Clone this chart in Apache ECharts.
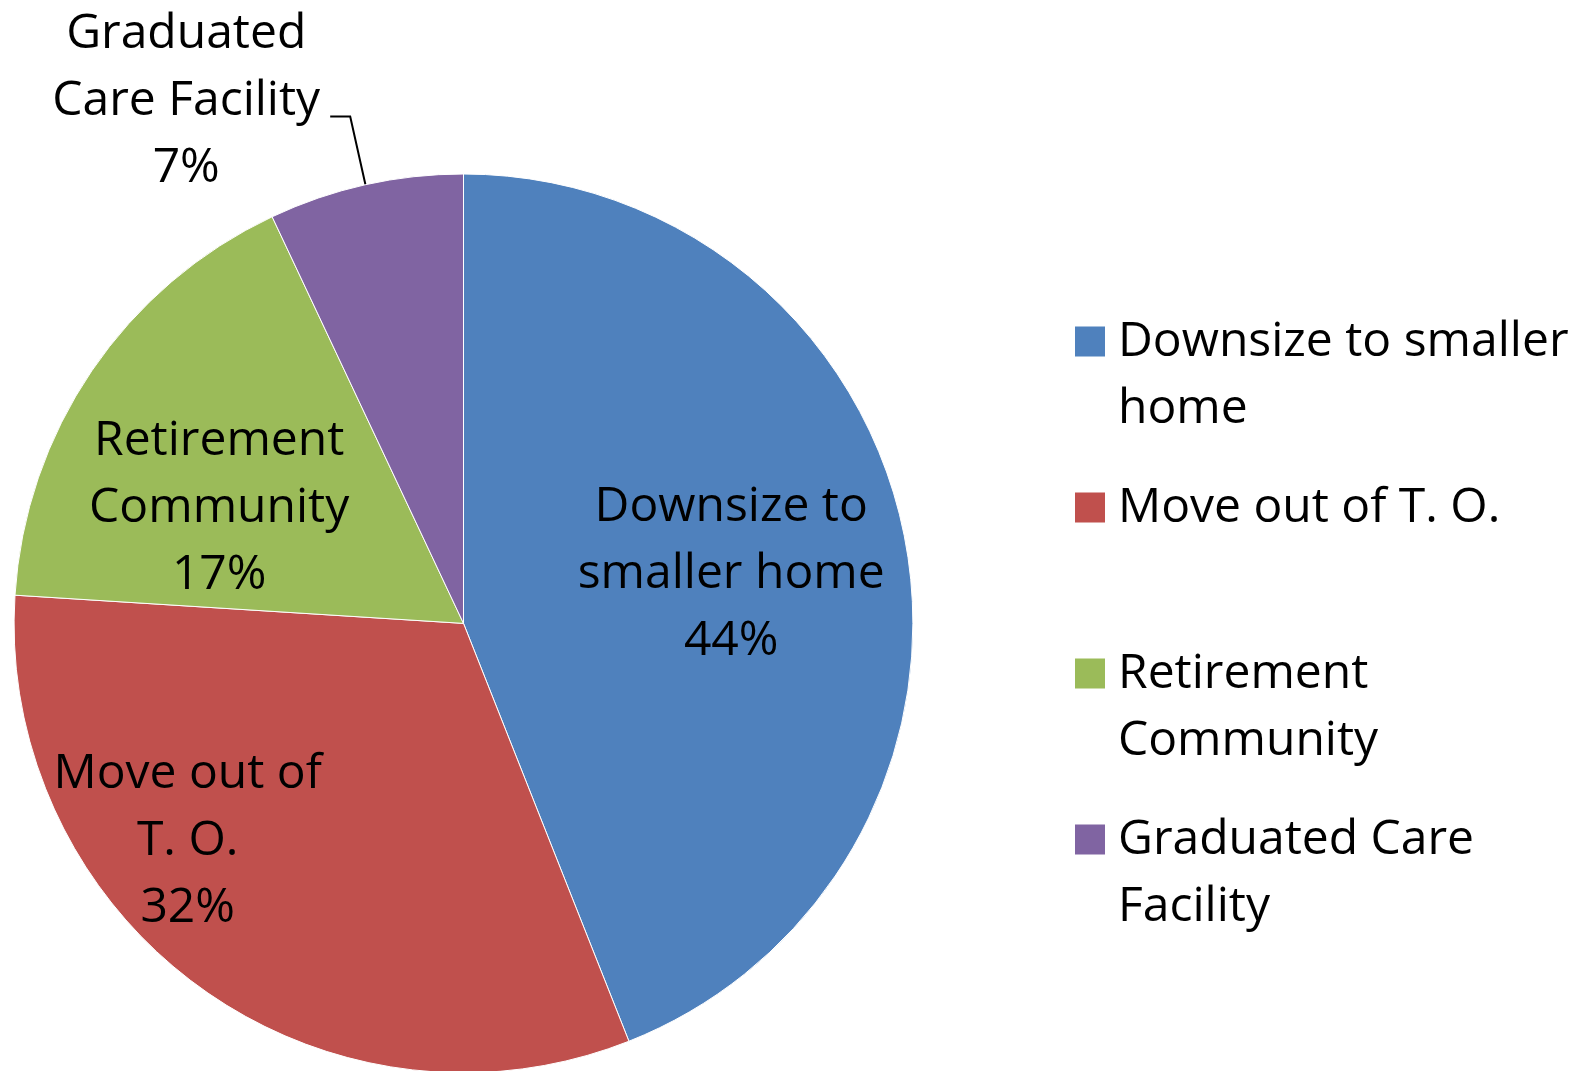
<!DOCTYPE html>
<html>
<head>
<meta charset="utf-8">
<script src="https://cdn.jsdelivr.net/npm/echarts@6/dist/echarts.min.js"></script>
<style>
html,body{margin:0;padding:0;background:#fff;}
#chart{width:1578px;height:1071px;}
</style>
</head>
<body>
<div id="chart"></div>
<script>
var categories = ['Downsize to smaller home', 'Move out of T. O.', 'Retirement Community', 'Graduated Care Facility'];
var values = [44, 32, 17, 7];
var pieLabelLines = [['Downsize to', 'smaller home'], ['Move out of', 'T. O.'], ['Retirement', 'Community'], ['Graduated', 'Care Facility']];
var legendLines = [['Downsize to smaller', 'home'], ['Move out of T. O.', ' '], ['Retirement', 'Community'], ['Graduated Care', 'Facility']];
var colors = ['#4F81BD', '#C0504D', '#9BBB59', '#8064A2'];
var insideLabelShift = [[44, -6], [-142, 34], [-56, 13], null];

var FONT = '"Open Sans", sans-serif';
var FS = 48, LH = 67;

var chart = echarts.init(document.getElementById('chart'));

var data = categories.map(function (name, i) {
  var item = { name: name, value: values[i], itemStyle: { color: colors[i] } };
  if (i === 3) {
    item.label = {
      position: 'outside',
      formatter: function (p) {
        var l = pieLabelLines[p.dataIndex];
        return '{c|' + l[0] + '}\n{c|' + l[1] + '}\n{c|' + p.value + '%}';
      },
      padding: [0, 0, 31, 0],
      rich: { c: { width: 278, align: 'center', fontSize: FS, lineHeight: LH, fontFamily: FONT, color: '#000' } }
    };
    item.labelLine = { show: true, length: 70, length2: 20, lineStyle: { color: '#000', width: 2 } };
  }
  return item;
});

chart.setOption({
  animation: false,
  backgroundColor: '#fff',
  legend: {
    orient: 'vertical',
    left: 1075,
    top: 309,
    padding: 0,
    itemGap: 32,
    itemWidth: 30,
    itemHeight: 134,
    icon: 'path://M0,0h0.01v0.01h-0.01zM0,17.5h30v30h-30zM0,133.99h0.01v0.01h-0.01z',
    itemStyle: { borderWidth: 0 },
    selectedMode: false,
    data: categories,
    formatter: function (name) {
      var l = legendLines[categories.indexOf(name)];
      return l.join('\n');
    },
    textStyle: { fontSize: FS, lineHeight: LH, fontFamily: FONT, color: '#000', padding: [0, 0, 0, 8] }
  },
  series: [{
    type: 'pie',
    center: [463.5, 623.4],
    radius: [0, 449.4],
    startAngle: 90,
    clockwise: true,
    avoidLabelOverlap: false,
    itemStyle: { borderColor: '#fff', borderWidth: 1 },
    label: {
      show: true,
      position: 'inside',
      fontSize: FS,
      lineHeight: LH,
      fontFamily: FONT,
      color: '#000',
      formatter: function (p) {
        var l = pieLabelLines[p.dataIndex];
        return l[0] + '\n' + l[1] + '\n' + p.value + '%';
      }
    },
    labelLine: { show: false },
    labelLayout: function (p) {
      var s = insideLabelShift[p.dataIndex];
      if (!s) return {};
      return { dx: s[0], dy: s[1] };
    },
    emphasis: { disabled: true },
    data: data
  }]
});
</script>
</body>
</html>
